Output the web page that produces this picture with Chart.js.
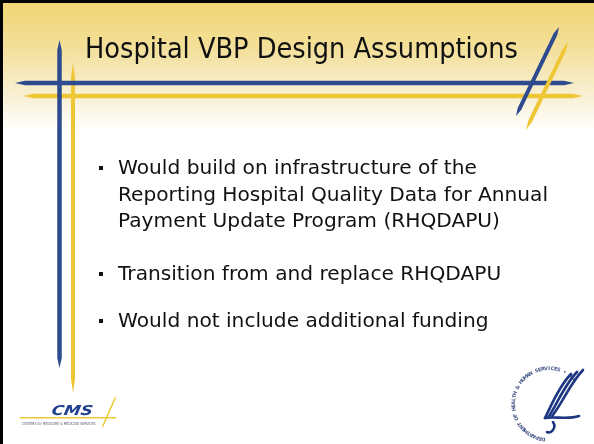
<!DOCTYPE html>
<html>
<head>
<meta charset="utf-8">
<script src="https://cdn.jsdelivr.net/npm/chart.js@4/dist/chart.umd.min.js"></script>
<style>
  html, body { margin: 0; padding: 0; background: #fff; }
  #wrap { width: 594px; height: 444px; }
</style>
</head>
<body>
<div id="wrap"><canvas id="slide" width="594" height="444"></canvas></div>
<script>
const TITLE = 'Hospital VBP Design Assumptions';
const BULLETS = [
  ['Would build on infrastructure of the', 'Reporting Hospital Quality Data for Annual', 'Payment Update Program (RHQDAPU)'],
  ['Transition from and replace RHQDAPU'],
  ['Would not include additional funding'],
];
const LOGO_TEXT = 'CMS';
const LOGO_SUB = 'CENTERS for MEDICARE & MEDICAID SERVICES';
const SEAL_TEXT = 'DEPARTMENT OF HEALTH & HUMAN SERVICES \u2022 USA';

const BLUE = '#2d4b8e';
const GOLD = '#efc736';
const FONT = '"DejaVu Sans", Verdana, sans-serif';

// stroke with pointed ends, like the brush lines of the template
const stripe = (ctx, x1, y1, x2, y2, w, color, tip = 6) => {
  const len = Math.hypot(x2 - x1, y2 - y1);
  const dx = (x2 - x1) / len, dy = (y2 - y1) / len;
  const nx = -dy * w / 2, ny = dx * w / 2;
  ctx.beginPath();
  ctx.moveTo(x1, y1);
  ctx.lineTo(x1 + dx * tip + nx, y1 + dy * tip + ny);
  ctx.lineTo(x2 - dx * tip + nx, y2 - dy * tip + ny);
  ctx.lineTo(x2, y2);
  ctx.lineTo(x2 - dx * tip - nx, y2 - dy * tip - ny);
  ctx.lineTo(x1 + dx * tip - nx, y1 + dy * tip - ny);
  ctx.closePath();
  ctx.fillStyle = color;
  ctx.fill();
};

// text squeezed horizontally so that it fills a measured width
const fitText = (ctx, text, x, base, size, scaleX) => {
  ctx.save();
  ctx.font = `${size}px ${FONT}`;
  ctx.translate(x, base);
  ctx.scale(scaleX, 1);
  ctx.fillText(text, 0, 0);
  ctx.restore();
};

const slidePlugin = {
  id: 'slide',
  beforeDraw(chart) {
    const { ctx } = chart;
    const X = v => chart.scales.x.getPixelForValue(v);
    const Y = v => chart.scales.y.getPixelForValue(v);

    ctx.save();
    ctx.fillStyle = '#fff';
    ctx.fillRect(0, 0, chart.width, chart.height);

    // header band
    const g = ctx.createLinearGradient(0, Y(0), 0, Y(132));
    g.addColorStop(0, '#f0d573');
    g.addColorStop(0.35, '#f3df98');
    g.addColorStop(0.7, '#f8efd0');
    g.addColorStop(1, '#ffffff');
    ctx.fillStyle = g;
    ctx.fillRect(0, 0, chart.width, Y(132));

    // frame
    ctx.fillStyle = '#000';
    ctx.fillRect(0, 0, chart.width, 3);
    ctx.fillRect(0, 0, 3, chart.height);

    // brush lines
    stripe(ctx, X(73), Y(63), X(73), Y(393), 4, GOLD, 14);
    stripe(ctx, X(23), Y(96), X(583), Y(96), 4.5, GOLD, 10);
    stripe(ctx, X(59.5), Y(40), X(59.5), Y(368), 4.5, BLUE, 10);
    stripe(ctx, X(15), Y(83), X(574), Y(83), 4.5, BLUE, 10);
    stripe(ctx, X(568), Y(42), X(526), Y(130), 4, GOLD, 10);
    stripe(ctx, X(559), Y(27), X(516), Y(116), 4, BLUE, 8);

    // title
    ctx.fillStyle = '#111';
    ctx.textBaseline = 'alphabetic';
    ctx.font = `29px ${FONT}`;
    const tw = ctx.measureText(TITLE).width;
    fitText(ctx, TITLE, X(85), Y(58), 29, 433 / tw);

    // bullets
    ctx.font = `20px ${FONT}`;
    const bw = ctx.measureText(BULLETS[0][1]).width;
    const sx = 430 / bw;
    const tops = [174, 280, 327];
    BULLETS.forEach((lines, i) => {
      ctx.fillStyle = '#111';
      ctx.fillRect(X(99), Y(tops[i] - 8), 4, 4);
      lines.forEach((line, j) => {
        fitText(ctx, line, X(118), Y(tops[i] + j * 26.5), 20, sx);
      });
    });

    // CMS logo
    ctx.fillStyle = GOLD;
    ctx.fillRect(X(20), Y(417), 96, 1.5);
    stripe(ctx, X(116), Y(396), X(102), Y(428), 1.6, GOLD, 3);
    ctx.fillStyle = '#1f3f8f';
    ctx.save();
    ctx.font = `italic bold 16px ${FONT}`;
    ctx.translate(X(51), Y(415));
    ctx.transform(1, 0, -0.18, 1, 0, 0);
    ctx.scale(1.05, 0.85);
    ctx.fillText(LOGO_TEXT, 0, 0);
    ctx.restore();
    ctx.fillStyle = '#55607a';
    fitText(ctx, LOGO_SUB, X(22), Y(425), 4, 0.78);

    // HHS seal
    const cx = X(549), cy = Y(404), r = 34;
    ctx.fillStyle = '#4a5b8c';
    ctx.font = `bold 5px ${FONT}`;
    ctx.textAlign = 'center';
    const chars = SEAL_TEXT.split('');
    const a0 = -Math.PI * 1.45, a1 = -0.75;
    chars.forEach((c, k) => {
      const a = a0 + (a1 - a0) * k / (chars.length - 1);
      ctx.save();
      ctx.translate(cx + r * Math.cos(a), cy + r * Math.sin(a));
      ctx.rotate(a + Math.PI / 2);
      ctx.fillText(c, 0, 0);
      ctx.restore();
    });
    ctx.textAlign = 'left';

    ctx.strokeStyle = '#1d3782';
    ctx.lineWidth = 2.6;
    ctx.lineCap = 'round';
    [[0, 0], [6, -2], [12, -4]].forEach(([ox, oy]) => {
      ctx.beginPath();
      ctx.moveTo(cx + 22 + ox, cy - 30 + oy);
      ctx.bezierCurveTo(cx + 10 + ox, cy - 18 + oy, cx + 2 + ox, cy + 2 + oy, cx - 4 + ox * 0.6, cy + 14 + oy * 0.5);
      ctx.stroke();
    });
    ctx.beginPath();
    ctx.moveTo(cx - 4, cy + 14);
    ctx.bezierCurveTo(cx + 6, cy + 12, cx + 18, cy + 16, cx + 30, cy + 12);
    ctx.stroke();
    ctx.beginPath();
    ctx.moveTo(cx + 4, cy + 18);
    ctx.bezierCurveTo(cx + 8, cy + 24, cx + 2, cy + 30, cx - 2, cy + 28);
    ctx.stroke();
    ctx.restore();
  },
};

const CHART = new Chart(document.getElementById('slide'), {
  type: 'scatter',
  data: { datasets: [] },
  plugins: [slidePlugin],
  options: {
    responsive: false,
    animation: false,
    layout: { padding: 0 },
    plugins: { legend: { display: false }, tooltip: { enabled: false } },
    scales: {
      x: { type: 'linear', min: 0, max: 594, display: false },
      y: { type: 'linear', min: 0, max: 444, reverse: true, display: false },
    },
  },
});
</script>
</body>
</html>
